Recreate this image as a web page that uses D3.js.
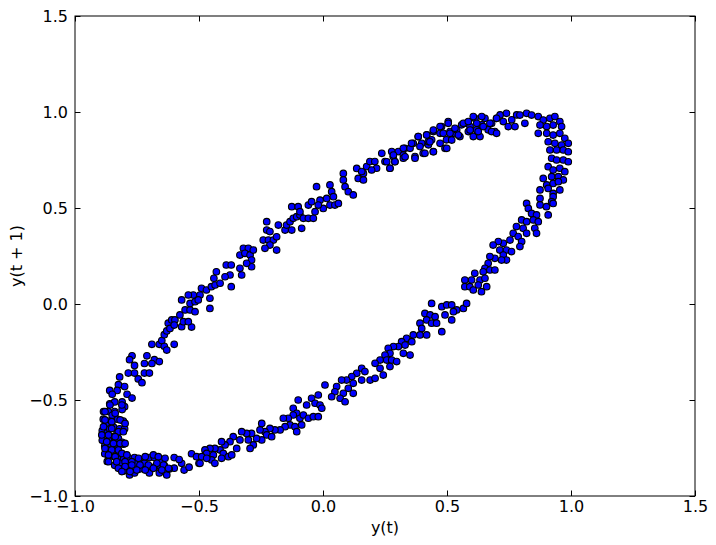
<!DOCTYPE html>
<html>
<head>
<meta charset="utf-8">
<script src="https://cdn.jsdelivr.net/npm/d3@7"></script>
<style>
  body { margin: 0; background: #fff; }
  text { font-family: "DejaVu Sans", sans-serif; }
</style>
</head>
<body>
<svg id="chart" width="716" height="545"></svg>
<script>
// lag plot points [y(t), y(t + 1)]
const leftLoop = [
  [-0.69,-0.21],[-0.66,-0.21],[-0.64,-0.22],[-0.60,-0.21],[-0.63,-0.24],
  [-0.77,-0.27],[-0.71,-0.27],[-0.68,-0.29],[-0.66,-0.30],[-0.78,-0.29],[-0.76,-0.32],[-0.72,-0.31],[-0.69,-0.31],
  [-0.785,-0.36],[-0.76,-0.36],[-0.72,-0.36],[-0.70,-0.36],[-0.745,-0.39],[-0.73,-0.41],[-0.82,-0.38],
  [-0.825,-0.42],[-0.80,-0.43],[-0.86,-0.45],[-0.83,-0.45],[-0.79,-0.47],[-0.85,-0.47],[-0.77,-0.49],
  [-0.86,-0.52],[-0.84,-0.51],[-0.81,-0.51],[-0.80,-0.535],[-0.885,-0.56],[-0.866,-0.56],[-0.84,-0.56],[-0.81,-0.55],
  [-0.886,-0.60],[-0.86,-0.61],[-0.83,-0.60],[-0.805,-0.61],[-0.845,-0.64],[-0.82,-0.65],[-0.80,-0.65],
  [-0.89,-0.66],[-0.87,-0.67],[-0.845,-0.69],[-0.825,-0.70],[-0.89,-0.71],[-0.865,-0.71],[-0.81,-0.72],
  [-0.88,-0.74],[-0.86,-0.76],[-0.83,-0.74],[-0.825,-0.77],[-0.805,-0.73],[-0.866,-0.79],[-0.84,-0.795],[-0.87,-0.82],
  [-0.84,-0.84],[-0.81,-0.865],[-0.78,-0.865],[-0.805,-0.81],[-0.785,-0.80],[-0.76,-0.80],[-0.75,-0.83],
  [-0.73,-0.81],[-0.70,-0.80],[-0.68,-0.80],[-0.71,-0.85],[-0.68,-0.85],[-0.66,-0.84],[-0.64,-0.84],
  [-0.70,-0.88],[-0.66,-0.88],[-0.63,-0.89],[-0.78,-0.89],[-0.76,-0.88],[-0.805,-0.87],
  [-0.60,-0.80],[-0.57,-0.83],[-0.60,-0.855],[-0.56,-0.865],[-0.54,-0.85],[-0.53,-0.78],[-0.51,-0.795],[-0.50,-0.83],
  [-0.85,-0.58],[-0.87,-0.63],[-0.83,-0.67],[-0.855,-0.73],[-0.83,-0.80],[-0.82,-0.83],[-0.74,-0.86],
  [-0.72,-0.83],[-0.62,-0.86],[-0.58,-0.81],[-0.65,-0.82],[-0.79,-0.84],[-0.86,-0.65],[-0.88,-0.78]
];

const leftLoopExtra = [
  [-0.879,-0.561],[-0.859,-0.526],[-0.838,-0.569],[-0.811,-0.526],[-0.879,-0.604],[-0.852,-0.613],
  [-0.818,-0.604],[-0.798,-0.622],[-0.885,-0.639],[-0.852,-0.648],[-0.825,-0.665],[-0.805,-0.665],
  [-0.892,-0.682],[-0.865,-0.682],[-0.838,-0.691],[-0.872,-0.717],[-0.845,-0.726],[-0.818,-0.726],
  [-0.798,-0.726],[-0.879,-0.752],[-0.852,-0.76],[-0.825,-0.76],[-0.865,-0.786],[-0.838,-0.795],
  [-0.811,-0.778],[-0.791,-0.786],[-0.865,-0.821],[-0.832,-0.821],[-0.798,-0.821],[-0.771,-0.821],
  [-0.744,-0.804],[-0.717,-0.795],[-0.684,-0.786],[-0.664,-0.795],[-0.637,-0.804],[-0.825,-0.856],
  [-0.798,-0.847],[-0.771,-0.839],[-0.738,-0.839],[-0.704,-0.839],[-0.67,-0.83],[-0.643,-0.839],
  [-0.811,-0.873],[-0.778,-0.873],[-0.751,-0.865],[-0.717,-0.865],[-0.684,-0.856],[-0.65,-0.865],[-0.623,-0.856]
];

const upperLow = [
  [-0.65,-0.19],[-0.64,-0.16],[-0.63,-0.14],
  [-0.624,-0.10],[-0.61,-0.083],[-0.597,-0.083],[-0.617,-0.127],[-0.60,-0.11],[-0.57,-0.118],[-0.53,-0.12],
  [-0.563,-0.092],[-0.543,-0.092],[-0.577,-0.057],[-0.556,-0.031],[-0.536,-0.031],[-0.516,-0.04],[-0.57,0.021],
  [-0.536,0.003],[-0.516,0.012],[-0.523,0.047],[-0.543,0.047],[-0.496,0.047],[-0.503,0.021],[-0.456,0.03],
  [-0.456,-0.023],[-0.49,0.082],[-0.47,0.073],[-0.45,0.09],[-0.435,0.099],[-0.44,0.134],[-0.43,0.168],
  [-0.415,0.108],[-0.39,0.203],[-0.37,0.203],[-0.375,0.151],[-0.395,0.142],[-0.37,0.09]
];

const upperMid = [
  [-0.335,0.186],[-0.328,0.151],[-0.335,0.255],[-0.321,0.29],[-0.301,0.29],[-0.315,0.264],[-0.294,0.255],
  [-0.281,0.281],[-0.288,0.229],[-0.288,0.194],[-0.308,0.212],
  [-0.241,0.333],[-0.22,0.333],[-0.2,0.333],[-0.227,0.385],[-0.214,0.377],[-0.227,0.429],[-0.187,0.35],
  [-0.18,0.411],[-0.187,0.281],[-0.214,0.307],[-0.234,0.29],
  [-0.153,0.385],[-0.126,0.385],[-0.147,0.411],[-0.133,0.429],[-0.12,0.446],[-0.106,0.455],[-0.093,0.463],
  [-0.086,0.394],[-0.126,0.507],[-0.1,0.507],[-0.093,0.481],[-0.079,0.446],[-0.059,0.446],[-0.039,0.446],
  [-0.059,0.515],[-0.046,0.533],[-0.032,0.481],[-0.026,0.611],[-0.012,0.541],[0.015,0.55],[0.028,0.515],
  [0.001,0.498],[-0.019,0.515],[0.048,0.515],[0.062,0.524],[0.028,0.62],[0.035,0.585],[0.042,0.559],
  [0.082,0.68],[0.082,0.646],[0.089,0.611],[0.102,0.585],[0.122,0.568],[0.136,0.706],[0.142,0.654],
  [0.163,0.646],[0.163,0.68]
];

const upperTop = [
  [0.156,0.69],[0.176,0.716],[0.189,0.742],[0.209,0.742],[0.216,0.707],[0.196,0.698],[0.25,0.742],
  [0.27,0.707],[0.283,0.768],[0.29,0.742],[0.277,0.794],[0.304,0.794],[0.324,0.776],[0.33,0.811],[0.324,0.759],
  [0.351,0.811],[0.364,0.837],[0.384,0.872],[0.371,0.768],[0.398,0.837],[0.404,0.785],[0.418,0.881],
  [0.425,0.829],[0.445,0.794],[0.425,0.846],[0.445,0.898],[0.438,0.855],[0.472,0.889],[0.478,0.924],
  [0.498,0.855],[0.492,0.811],[0.505,0.95],[0.512,0.898],[0.525,0.889],[0.539,0.907],[0.552,0.872],
  [0.559,0.933],[0.579,0.941],[0.593,0.924],[0.586,0.898],[0.613,0.967],[0.606,0.872],[0.619,0.907],
  [0.633,0.872],[0.64,0.933],[0.653,0.967],[0.666,0.907],[0.68,0.941],[0.693,0.898],[0.7,0.967],
  [0.714,0.985],[0.727,0.95],[0.74,0.993],[0.747,0.924],[0.761,0.959],[0.774,0.924],[0.781,0.985]
];

const upperTopExtra = [
  [0.237,0.785],[0.257,0.741],[0.284,0.776],[0.29,0.741],[0.27,0.707],[0.324,0.811],[0.331,0.767],
  [0.357,0.837],[0.371,0.759],[0.384,0.872],[0.391,0.82],[0.411,0.785],[0.418,0.88],[0.431,0.845],
  [0.445,0.906],[0.445,0.793],[0.472,0.924],[0.472,0.837],[0.485,0.889],[0.499,0.811],[0.505,0.941],
  [0.512,0.889],[0.519,0.854],[0.532,0.915],[0.546,0.88],[0.566,0.941],[0.586,0.95],[0.593,0.906],
  [0.606,0.976],[0.62,0.941],[0.626,0.898],[0.64,0.976],[0.646,0.924],[0.673,0.941],[0.68,0.898],
  [0.7,0.967],[0.7,0.889]
];

const rightLoop = [
  [0.794,0.984],[0.821,0.993],[0.841,0.984],[0.868,0.976],[0.888,0.958],[0.915,0.967],[0.935,0.976],
  [0.955,0.95],[0.962,0.924],[0.928,0.932],[0.902,0.924],[0.875,0.932],[0.814,0.941],[0.868,0.889],
  [0.902,0.889],[0.928,0.88],[0.955,0.889],[0.975,0.863],[0.989,0.837],[0.908,0.845],[0.935,0.837],
  [0.962,0.828],[0.915,0.802],[0.942,0.802],[0.969,0.802],[0.989,0.793],[0.922,0.759],[0.942,0.75],
  [0.969,0.75],[0.989,0.741],[0.908,0.715],[0.928,0.698],[0.955,0.707],[0.975,0.689],[0.922,0.663],
  [0.949,0.663],[0.969,0.646],[0.888,0.654],[0.902,0.62],[0.928,0.628],[0.949,0.637],[0.875,0.594],
  [0.908,0.602],[0.928,0.576],[0.955,0.594],[0.875,0.55],[0.928,0.559]
];

const lowerHigh = [
  [0.821,0.524],[0.828,0.498],[0.841,0.472],[0.861,0.464],[0.875,0.516],[0.901,0.507],[0.908,0.464],
  [0.922,0.533],[0.928,0.524],[0.801,0.438],[0.78,0.403],[0.821,0.429],[0.848,0.438],[0.868,0.429],
  [0.807,0.394],[0.821,0.368],[0.854,0.394],[0.861,0.368],[0.767,0.368],[0.787,0.351],[0.801,0.325],
  [0.794,0.299],[0.754,0.333],[0.727,0.316],[0.707,0.325],[0.686,0.307],[0.713,0.281],[0.74,0.281],
  [0.76,0.273],[0.727,0.255],[0.74,0.229],[0.72,0.229],[0.693,0.238],[0.673,0.247],[0.666,0.212],
  [0.653,0.186],[0.646,0.168],[0.673,0.177],[0.693,0.177],[0.612,0.16],[0.633,0.125],[0.653,0.134],
  [0.599,0.125],[0.572,0.125],[0.572,0.09],[0.592,0.09],[0.606,0.073],[0.626,0.099],[0.66,0.09],[0.639,0.064]
];

const lowerMid = [
  [0.438,0.003],[0.479,-0.014],[0.499,-0.005],[0.519,-0.005],[0.539,-0.031],[0.566,-0.023],[0.579,0.003],
  [0.492,-0.057],[0.526,-0.04],[0.519,-0.083],[0.411,-0.049],[0.432,-0.057],[0.452,-0.066],[0.418,-0.083],
  [0.438,-0.1],[0.458,-0.1],[0.391,-0.1],[0.398,-0.127],[0.391,-0.161],[0.418,-0.161],[0.479,-0.144],
  [0.364,-0.161],[0.337,-0.179],[0.358,-0.196],[0.317,-0.196],[0.331,-0.214],[0.304,-0.222],[0.284,-0.222],
  [0.263,-0.231],[0.27,-0.257],[0.25,-0.266],[0.23,-0.292],[0.257,-0.292],[0.277,-0.292],[0.297,-0.3],
  [0.21,-0.309],[0.23,-0.335],[0.27,-0.326],[0.243,-0.37],[0.351,-0.266],[0.324,-0.257],[0.156,-0.335],
  [0.169,-0.352],[0.156,-0.396],[0.19,-0.396],[0.21,-0.387]
];

const lowerLow = [
  [0.136,-0.361],[0.116,-0.378],[0.095,-0.396],[0.075,-0.396],[0.122,-0.413],[0.102,-0.439],[0.122,-0.465],
  [0.082,-0.465],[0.055,-0.43],[0.048,-0.457],[0.035,-0.483],[0.069,-0.491],[0.089,-0.509],[0.008,-0.422],
  [-0.019,-0.474],[-0.046,-0.491],[-0.032,-0.517],[-0.012,-0.526],[-0.005,-0.543],[-0.066,-0.526],
  [-0.1,-0.5],[-0.12,-0.543],[-0.106,-0.569],[-0.093,-0.595],[-0.079,-0.578],[-0.059,-0.595],[-0.039,-0.587],
  [-0.019,-0.587],[-0.12,-0.578],[-0.14,-0.595],[-0.16,-0.595],[-0.133,-0.63],[-0.113,-0.639],[-0.106,-0.665],
  [-0.086,-0.63],[-0.153,-0.639],[-0.173,-0.656],[-0.194,-0.656],[-0.214,-0.648],[-0.234,-0.665],
  [-0.247,-0.622],[-0.254,-0.656],[-0.227,-0.682],[-0.207,-0.691],[-0.247,-0.708],[-0.268,-0.7],
  [-0.288,-0.674],[-0.308,-0.674],[-0.328,-0.665],[-0.301,-0.708],[-0.335,-0.708],[-0.281,-0.734],
  [-0.294,-0.752],[-0.348,-0.752],[-0.362,-0.691],[-0.375,-0.717],[-0.395,-0.734],[-0.409,-0.717],
  [-0.415,-0.76],[-0.436,-0.752],[-0.456,-0.752],[-0.476,-0.76],[-0.469,-0.778],[-0.442,-0.786],
  [-0.402,-0.778],[-0.382,-0.795],[-0.368,-0.786],[-0.409,-0.804],[-0.449,-0.812],[-0.436,-0.83],
  [-0.489,-0.795],[-0.496,-0.83],[-0.469,-0.804]
];

const xTicks = [-1.0, -0.5, 0.0, 0.5, 1.0, 1.5];
const yTicks = [-1.0, -0.5, 0.0, 0.5, 1.0, 1.5];

const points = [].concat(leftLoop, leftLoopExtra, upperLow, upperMid, upperTop, upperTopExtra,
    rightLoop, lowerHigh, lowerMid, lowerLow);

const margin = {top: 16, right: 21, bottom: 49, left: 75},
    width = 716 - margin.left - margin.right,
    height = 545 - margin.top - margin.bottom,
    tickLen = 5.5;

const svg = d3.select('#chart');
const g = svg.append('g')
    .attr('transform', 'translate(' + margin.left + ',' + margin.top + ')');

const x = d3.scaleLinear().domain([-1, 1.5]).range([0, width]);
const y = d3.scaleLinear().domain([-1, 1.5]).range([height, 0]);
const fmt = d3.format('.1f');

g.append('clipPath').attr('id', 'clip')
  .append('rect').attr('width', width).attr('height', height);

g.append('g')
    .attr('clip-path', 'url(#clip)')
  .selectAll('circle')
  .data(points)
  .join('circle')
    .attr('cx', d => x(d[0]))
    .attr('cy', d => y(d[1]))
    .attr('r', 3.3)
    .attr('fill', '#0000ff')
    .attr('stroke', '#000')
    .attr('stroke-width', 1.1);

function styleAxis(sel) {
    sel.select('.domain').remove();
    sel.selectAll('line').attr('stroke', '#000').attr('stroke-width', 1);
    sel.selectAll('text').attr('fill', '#000').style('font-size', '16px');
}

g.append('g')
    .attr('transform', 'translate(0,' + height + ')')
    .call(d3.axisBottom(x).tickValues(xTicks).tickFormat(fmt).tickSizeInner(-tickLen).tickSizeOuter(0).tickPadding(5))
    .call(styleAxis);

g.append('g')
    .call(d3.axisTop(x).tickValues(xTicks).tickFormat('').tickSizeInner(-tickLen).tickSizeOuter(0))
    .call(styleAxis);

g.append('g')
    .call(d3.axisLeft(y).tickValues(yTicks).tickFormat(fmt).tickSizeInner(-tickLen).tickSizeOuter(0).tickPadding(7))
    .call(styleAxis);

g.append('g')
    .attr('transform', 'translate(' + width + ',0)')
    .call(d3.axisRight(y).tickValues(yTicks).tickFormat('').tickSizeInner(-tickLen).tickSizeOuter(0))
    .call(styleAxis);

g.append('rect')
    .attr('width', width)
    .attr('height', height)
    .attr('fill', 'none')
    .attr('stroke', '#000')
    .attr('stroke-width', 1);

svg.append('text')
    .attr('x', margin.left + width / 2)
    .attr('y', 533)
    .attr('text-anchor', 'middle')
    .style('font-size', '16px')
    .text('y(t)');

svg.append('text')
    .attr('transform', 'translate(22,' + (margin.top + height / 2) + ') rotate(-90)')
    .attr('text-anchor', 'middle')
    .style('font-size', '16px')
    .text('y(t + 1)');
</script>
</body>
</html>
